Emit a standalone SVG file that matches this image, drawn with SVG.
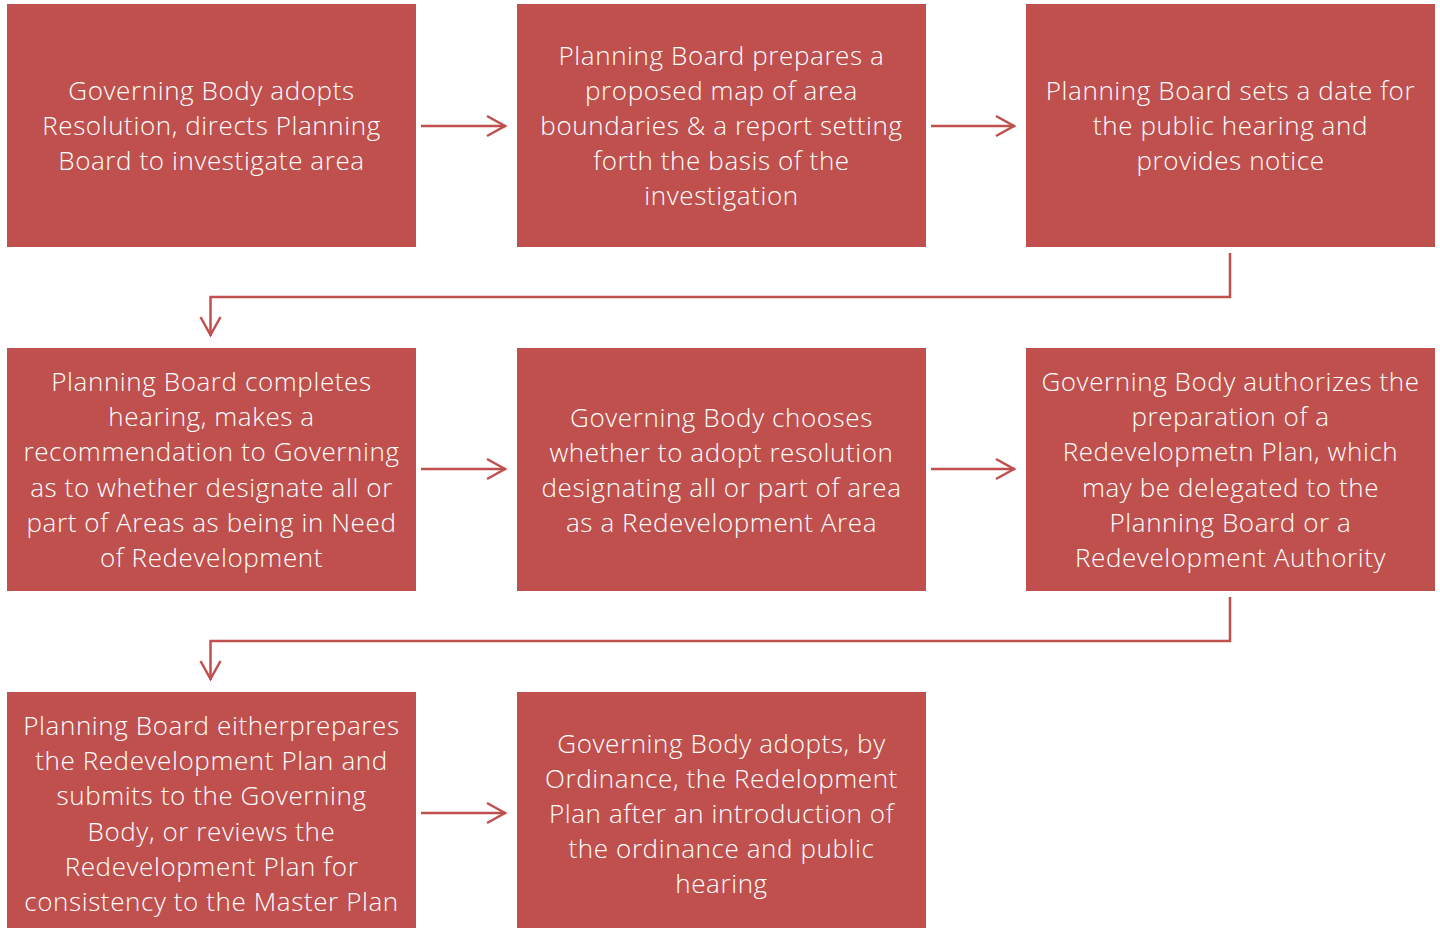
<svg xmlns="http://www.w3.org/2000/svg" width="1440" height="928" viewBox="0 0 1440 928">
<defs>
<style>
.box{fill:#C0504D;}
.t{font-family:"Open Sans","Noto Sans","Liberation Sans",sans-serif;font-weight:300;font-size:26px;letter-spacing:0.6px;fill:#FFFFFF;text-anchor:middle;}
.c{fill:none;stroke:#C0504D;stroke-width:2.5;}
</style>
<marker id="ah" viewBox="0 0 22 24" refX="20" refY="12" markerWidth="22" markerHeight="24" markerUnits="userSpaceOnUse" orient="auto">
<path d="M1,2 L19,12 L1,22" fill="none" stroke="#C0504D" stroke-width="2.5"/>
</marker>
</defs>
<rect width="1440" height="928" fill="#FFFFFF"/>
<g id="n1"><rect class="box" x="7" y="4" width="409" height="243"/>
<text class="t" x="211.5"><tspan x="211.5" y="100">Governing Body adopts</tspan><tspan x="211.5" y="135">Resolution, directs Planning</tspan><tspan x="211.5" y="170">Board to investigate area</tspan></text></g>
<g id="n2"><rect class="box" x="517" y="4" width="409" height="243"/>
<text class="t"><tspan x="721.5" y="65">Planning Board prepares a</tspan><tspan x="721.5" y="100">proposed map of area</tspan><tspan x="721.5" y="135">boundaries &amp; a report setting</tspan><tspan x="721.5" y="170">forth the basis of the</tspan><tspan x="721.5" y="205">investigation</tspan></text></g>
<g id="n3"><rect class="box" x="1026" y="4" width="409" height="243"/>
<text class="t"><tspan x="1230.5" y="100">Planning Board sets a date for</tspan><tspan x="1230.5" y="135">the public hearing and</tspan><tspan x="1230.5" y="170">provides notice</tspan></text></g>
<g id="n4"><rect class="box" x="7" y="348" width="409" height="243"/>
<text class="t"><tspan x="211.5" y="391">Planning Board completes</tspan><tspan x="211.5" y="426">hearing, makes a</tspan><tspan x="211.5" y="461">recommendation to Governing</tspan><tspan x="211.5" y="497">as to whether designate all or</tspan><tspan x="211.5" y="532">part of Areas as being in Need</tspan><tspan x="211.5" y="567">of Redevelopment</tspan></text></g>
<g id="n5"><rect class="box" x="517" y="348" width="409" height="243"/>
<text class="t"><tspan x="721.5" y="427">Governing Body chooses</tspan><tspan x="721.5" y="462">whether to adopt resolution</tspan><tspan x="721.5" y="497">designating all or part of area</tspan><tspan x="721.5" y="532">as a Redevelopment Area</tspan></text></g>
<g id="n6"><rect class="box" x="1026" y="348" width="409" height="243"/>
<text class="t"><tspan x="1230.5" y="391">Governing Body authorizes the</tspan><tspan x="1230.5" y="426">preparation of a</tspan><tspan x="1230.5" y="461">Redevelopmetn Plan, which</tspan><tspan x="1230.5" y="497">may be delegated to the</tspan><tspan x="1230.5" y="532">Planning Board or a</tspan><tspan x="1230.5" y="567">Redevelopment Authority</tspan></text></g>
<g id="n7"><rect class="box" x="7" y="692" width="409" height="240"/>
<text class="t"><tspan x="211.5" y="735">Planning Board eitherprepares</tspan><tspan x="211.5" y="770">the Redevelopment Plan and</tspan><tspan x="211.5" y="805">submits to the Governing</tspan><tspan x="211.5" y="841">Body, or reviews the</tspan><tspan x="211.5" y="876">Redevelopment Plan for</tspan><tspan x="211.5" y="911">consistency to the Master Plan</tspan></text></g>
<g id="n8"><rect class="box" x="517" y="692" width="409" height="240"/>
<text class="t"><tspan x="721.5" y="753">Governing Body adopts, by</tspan><tspan x="721.5" y="788">Ordinance, the Redelopment</tspan><tspan x="721.5" y="823">Plan after an introduction of</tspan><tspan x="721.5" y="858">the ordinance and public</tspan><tspan x="721.5" y="893">hearing</tspan></text></g>
<g id="connectors">
<path class="c" d="M421,126 H506" marker-end="url(#ah)"/>
<path class="c" d="M931,126 H1015" marker-end="url(#ah)"/>
<path class="c" d="M1230,253 V297 H210.5 V336" marker-end="url(#ah)"/>
<path class="c" d="M421,469 H506" marker-end="url(#ah)"/>
<path class="c" d="M931,469 H1015" marker-end="url(#ah)"/>
<path class="c" d="M1230,597 V641 H210.5 V680" marker-end="url(#ah)"/>
<path class="c" d="M421,813 H506" marker-end="url(#ah)"/>
</g>
</svg>
